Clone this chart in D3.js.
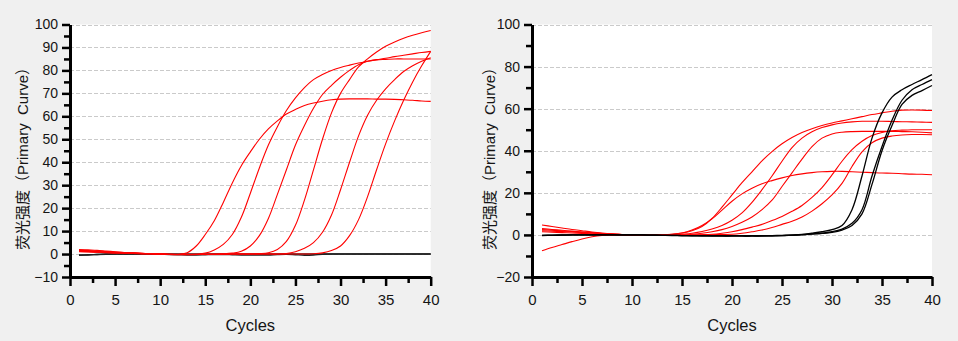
<!DOCTYPE html>
<html>
<head>
<meta charset="utf-8">
<script src="https://cdn.jsdelivr.net/npm/d3@7"></script>
<style>
  html, body { margin: 0; padding: 0; background: #f0f0f0; }
  svg { display: block; }
  text { font-family: "Liberation Sans", Arial, "Noto Sans CJK SC", sans-serif; fill: #151515; }
</style>
</head>
<body>
<div id="chart"></div>
<script>
// amplification curves, one value per cycle (1..40)
const cycles = [1,2,3,4,5,6,7,8,9,10,11,12,13,14,15,16,17,18,19,20,
                21,22,23,24,25,26,27,28,29,30,31,32,33,34,35,36,37,38,39,40];

// left panel
const leftRed1 = [2.0,1.8,1.6,1.3,1.0,0.7,0.5,0.3,0.1,0.0, -0.2,-0.1,0.6,3.5,8.5,14.5,22.5,31,38.5,44.5,
                  50,54.5,58,61,63,64.7,65.8,66.6,67.2,67.5, 67.6,67.6,67.6,67.5,67.5,67.4,67.2,67.0,66.7,66.5];
const leftRed2 = [1.5,1.3,1.1,0.9,0.7,0.5,0.3,0.2,0.1,0.0, -0.2,-0.2,-0.1,0.0,0.4,1.8,4.2,8.5,16,26.5,
                  37.5,47.5,55.5,62.5,68,72.5,76,78.2,80,81.3, 82.3,83.2,84,84.7,85.3,86,86.6,87.2,87.8,88.3];
const leftRed3 = [1.2,1.0,0.8,0.7,0.5,0.4,0.3,0.2,0.1,0.0, -0.2,-0.3,-0.3,-0.2,-0.1,0.0,0.1,0.4,1.2,3.5,
                  8,15.5,26,36.7,47.5,56,63.5,69.5,73.5,77, 80,82.5,84,84.6,84.8,85,85,85,85,85];
const leftRed4 = [1.0,0.9,0.8,0.6,0.5,0.4,0.3,0.2,0.1,0.0, -0.1,-0.2,-0.2,-0.2,-0.2,-0.1,0.0,0.0,0.0,0.0,
                  0.2,0.6,2.0,5.5,12.5,23.5,36.7,50,61.5,70, 76,81.5,85,88,90.5,92.4,94,95.3,96.4,97.4];
const leftRed5 = [1.7,1.5,1.3,1.1,0.9,0.7,0.5,0.3,0.1,0.0, -0.1,-0.2,-0.2,-0.2,-0.2,-0.1,0.0,0.0,0.0,0.0,
                  0.0,0.0,0.0,0.2,1.0,2.5,5.0,9.5,17,28, 40,51.5,60.5,67,72,76,79.5,82,84,85.5];
const leftRed6 = [1.3,1.1,1.0,0.8,0.6,0.5,0.3,0.2,0.1,0.0, -0.1,-0.2,-0.2,-0.2,-0.2,-0.2,-0.1,0.0,0.0,0.0,
                  0.0,0.0,0.0,0.0,0.0,0.0,0.1,0.5,1.5,3.5, 8,15,25,36.7,48,58,67,75,82,88.3];
const leftBlack1 = [-0.4,-0.3,-0.2,-0.1,0,0,0,0,0,0, 0,0,0,0,0,0,0,0,0,0,
                    0,0,0,0,0,0,0,0,0,0, 0,0,0,0,0,0,0,0,0,0];
const leftBlack2 = [-0.5,-0.4,-0.2,0,0,0,0,0,0,-0.1, -0.2,-0.3,-0.4,-0.4,-0.3,-0.2,-0.2,-0.3,-0.4,-0.4,
                    -0.4,-0.4,-0.2,-0.1,-0.3,-0.5,-0.4,-0.1,0,0, 0,0,0,0,0,0,0,0,0,0];

// right panel
const rightRed0 = [1.5,1.3,1.1,0.9,0.7,0.5,0.3,0.1,0.0,0.0, -0.1,-0.1,0.0,0.3,0.9,2.3,4.5,7.6,11.8,16,
                   19.5,22.2,24.3,25.8,27.1,28.2,29,29.6,30,30.2, 30.2,30,29.8,29.6,29.4,29.3,29.1,28.9,28.8,28.6];
const rightRed1 = [3.0,2.6,2.2,1.8,1.4,1.0,0.6,0.3,0.1,0.0, -0.1,-0.2,-0.1,0.3,0.9,2.0,4.0,7.8,13.2,19,
                   24.8,30,35.2,39.6,43.3,46.3,48.7,50.5,52,53.2, 54.2,55.2,56.2,57.2,58,58.8,59.3,59.4,59.3,59.1];
const rightRed2 = [4.7,4.0,3.3,2.6,2.0,1.4,0.9,0.5,0.2,0.0, -0.1,-0.2,-0.2,-0.1,0.3,0.8,1.6,2.8,4.5,7,
                   10.5,15.5,21.5,28,35,41.5,46,49,51,52.3, 53.2,53.7,54,54,54,53.9,53.8,53.7,53.6,53.5];
const rightRed3 = [2.5,2.2,1.9,1.6,1.3,1.0,0.7,0.4,0.2,0.0, -0.1,-0.2,-0.2,-0.2,-0.1,0.3,0.8,1.5,2.5,4,
                   6,8.5,12,16.5,23,29.5,36,42,46,48, 48.8,49.1,49.2,49.2,49.2,49.2,49.1,49,48.8,48.5];
const rightRed4 = [-7.5,-6.0,-4.6,-3.2,-1.9,-0.9,-0.3,-0.1,0.0,0.0, -0.1,-0.2,-0.2,-0.2,-0.1,0.0,0.1,0.3,0.8,1.5,
                   2.5,3.7,5,6.8,8.8,11.2,14,17.8,22.5,28.5, 35,40.5,44.5,47.2,48.7,49.5,49.8,50,50,50];
const rightRed5 = [2.0,1.8,1.6,1.4,1.2,0.9,0.6,0.4,0.2,0.0, -0.1,-0.2,-0.2,-0.2,-0.2,-0.1,0.0,0.1,0.2,0.3,
                   0.8,1.5,2.3,3.5,5,6.5,8.5,11.3,14.8,19, 24.5,32.5,39.5,43.8,46,47,47.5,47.7,47.7,47.6];
const rightBlack1 = [-0.2,-0.2,-0.1,0,0,0,0.1,0.1,0,0, 0,-0.1,-0.2,-0.2,-0.3,-0.3,-0.4,-0.4,-0.4,-0.4,
                     -0.5,-0.5,-0.5,-0.4,-0.3,-0.1,0.2,0.8,1.5,2.5, 4.5,12,28,46,58,65.5,69,71.5,73.8,76.2];
const rightBlack2 = [-0.3,-0.2,-0.1,0,0,0,0,0,0,0, 0,-0.1,-0.2,-0.3,-0.3,-0.4,-0.4,-0.4,-0.5,-0.5,
                     -0.5,-0.5,-0.4,-0.4,-0.3,-0.1,0.1,0.5,0.8,1.5, 2.8,5.5,12,28,42,54.5,64,69,71.5,73.8];
const rightBlack3 = [-0.2,-0.1,0,0,0,0,0,0,0,0, 0,-0.1,-0.2,-0.2,-0.3,-0.3,-0.3,-0.4,-0.4,-0.4,
                     -0.4,-0.4,-0.4,-0.3,-0.2,-0.1,0.1,0.4,0.7,1.2, 2.3,4.5,10,24,40,52,62,66.3,68.6,71];

// ticks
const xMajor = [0,5,10,15,20,25,30,35,40];
const xMinor = [2.5,7.5,12.5,17.5,22.5,27.5,32.5,37.5];
const leftYMajor = [-10,0,10,20,30,40,50,60,70,80,90,100];
const leftYMinor = [-5,5,15,25,35,45,55,65,75,85,95];
const rightYMajor = [-20,0,20,40,60,80,100];
const rightYMinor = [-10,10,30,50,70,90];

const yTitle = "荧光强度（Primary\u00a0 Curve）";
const xTitle = "Cycles";

const W = 958, H = 341;
const plotTop = 24.5, plotBottom = 277;

const panels = [
  { x0: 70, x1: 430.7, yDomain: [-10, 100], yMajor: leftYMajor, yMinor: leftYMinor,
    red: [leftRed1, leftRed2, leftRed3, leftRed4, leftRed5, leftRed6],
    black: [leftBlack1, leftBlack2], blackOnTop: false, titleX: 22 },
  { x0: 532, x1: 932, yDomain: [-20, 100], yMajor: rightYMajor, yMinor: rightYMinor,
    red: [rightRed0, rightRed1, rightRed2, rightRed3, rightRed4, rightRed5],
    black: [rightBlack1, rightBlack2, rightBlack3], blackOnTop: true, titleX: 489 }
];

const svg = d3.select("#chart").append("svg")
  .attr("width", W).attr("height", H);

svg.append("rect").attr("width", W).attr("height", H).attr("fill", "#f0f0f0");

panels.forEach(p => {
  const x = d3.scaleLinear().domain([0, 40]).range([p.x0, p.x1]);
  const y = d3.scaleLinear().domain(p.yDomain).range([plotBottom, plotTop]);
  const g = svg.append("g");

  g.append("rect")
    .attr("x", p.x0).attr("y", plotTop)
    .attr("width", p.x1 - p.x0).attr("height", plotBottom - plotTop)
    .attr("fill", "#fff");

  // dashed grid
  g.append("g").selectAll("line")
    .data(p.yMajor.filter(v => v > p.yDomain[0]))
    .join("line")
    .attr("x1", p.x0).attr("x2", p.x1)
    .attr("y1", d => Math.round(y(d)) + 0.5).attr("y2", d => Math.round(y(d)) + 0.5)
    .attr("stroke", "#cacaca").attr("stroke-width", 1)
    .attr("stroke-dasharray", "4,2");

  const line = d3.line()
    .x((d, i) => x(cycles[i]))
    .y(d => y(d))
    .curve(d3.curveCatmullRom.alpha(0.5));

  const drawSet = (set, color, w) => {
    g.append("g").selectAll("path")
      .data(set)
      .join("path")
      .attr("d", line)
      .attr("fill", "none")
      .attr("stroke", color)
      .attr("stroke-width", w);
  };

  if (p.blackOnTop) {
    drawSet(p.red, "#ff0000", 1.1);
    drawSet(p.black, "#000", 1.3);
  } else {
    drawSet(p.black, "#222", 1.4);
    drawSet(p.red, "#ff0000", 1.1);
  }

  // axes
  const yAxis = g.append("g").attr("transform", `translate(${p.x0},0)`)
    .call(d3.axisLeft(y).tickValues(p.yMajor).tickSize(8).tickPadding(4).tickSizeOuter(0));
  g.append("g").attr("transform", `translate(${p.x0},0)`)
    .call(d3.axisLeft(y).tickValues(p.yMinor).tickSize(6).tickFormat("").tickSizeOuter(0))
    .select(".domain").remove();

  const xAxis = g.append("g").attr("transform", `translate(0,${plotBottom})`)
    .call(d3.axisBottom(x).tickValues(xMajor).tickSize(9).tickPadding(8).tickSizeOuter(0));
  g.append("g").attr("transform", `translate(0,${plotBottom})`)
    .call(d3.axisBottom(x).tickValues(xMinor).tickSize(6).tickFormat("").tickSizeOuter(0))
    .select(".domain").remove();

  g.selectAll(".domain").attr("stroke", "#000").attr("stroke-width", 3);
  g.selectAll(".tick line").attr("stroke", "#000").attr("stroke-width", 2.5);
  yAxis.selectAll("text").attr("font-size", 14).attr("fill", "#151515")
    .style("font-family", '"Liberation Sans", Arial, sans-serif');
  xAxis.selectAll("text").attr("font-size", 15).attr("fill", "#151515")
    .style("font-family", '"Liberation Sans", Arial, sans-serif');

  // titles
  g.append("text")
    .attr("x", (p.x0 + p.x1) / 2).attr("y", 331)
    .attr("text-anchor", "middle").attr("font-size", 16.5)
    .text(xTitle);

  g.append("text")
    .attr("transform", `translate(${p.titleX},155) rotate(-90)`)
    .attr("text-anchor", "middle").attr("dominant-baseline", "central")
    .attr("font-size", 15)
    .text(yTitle);
});
</script>
</body>
</html>
